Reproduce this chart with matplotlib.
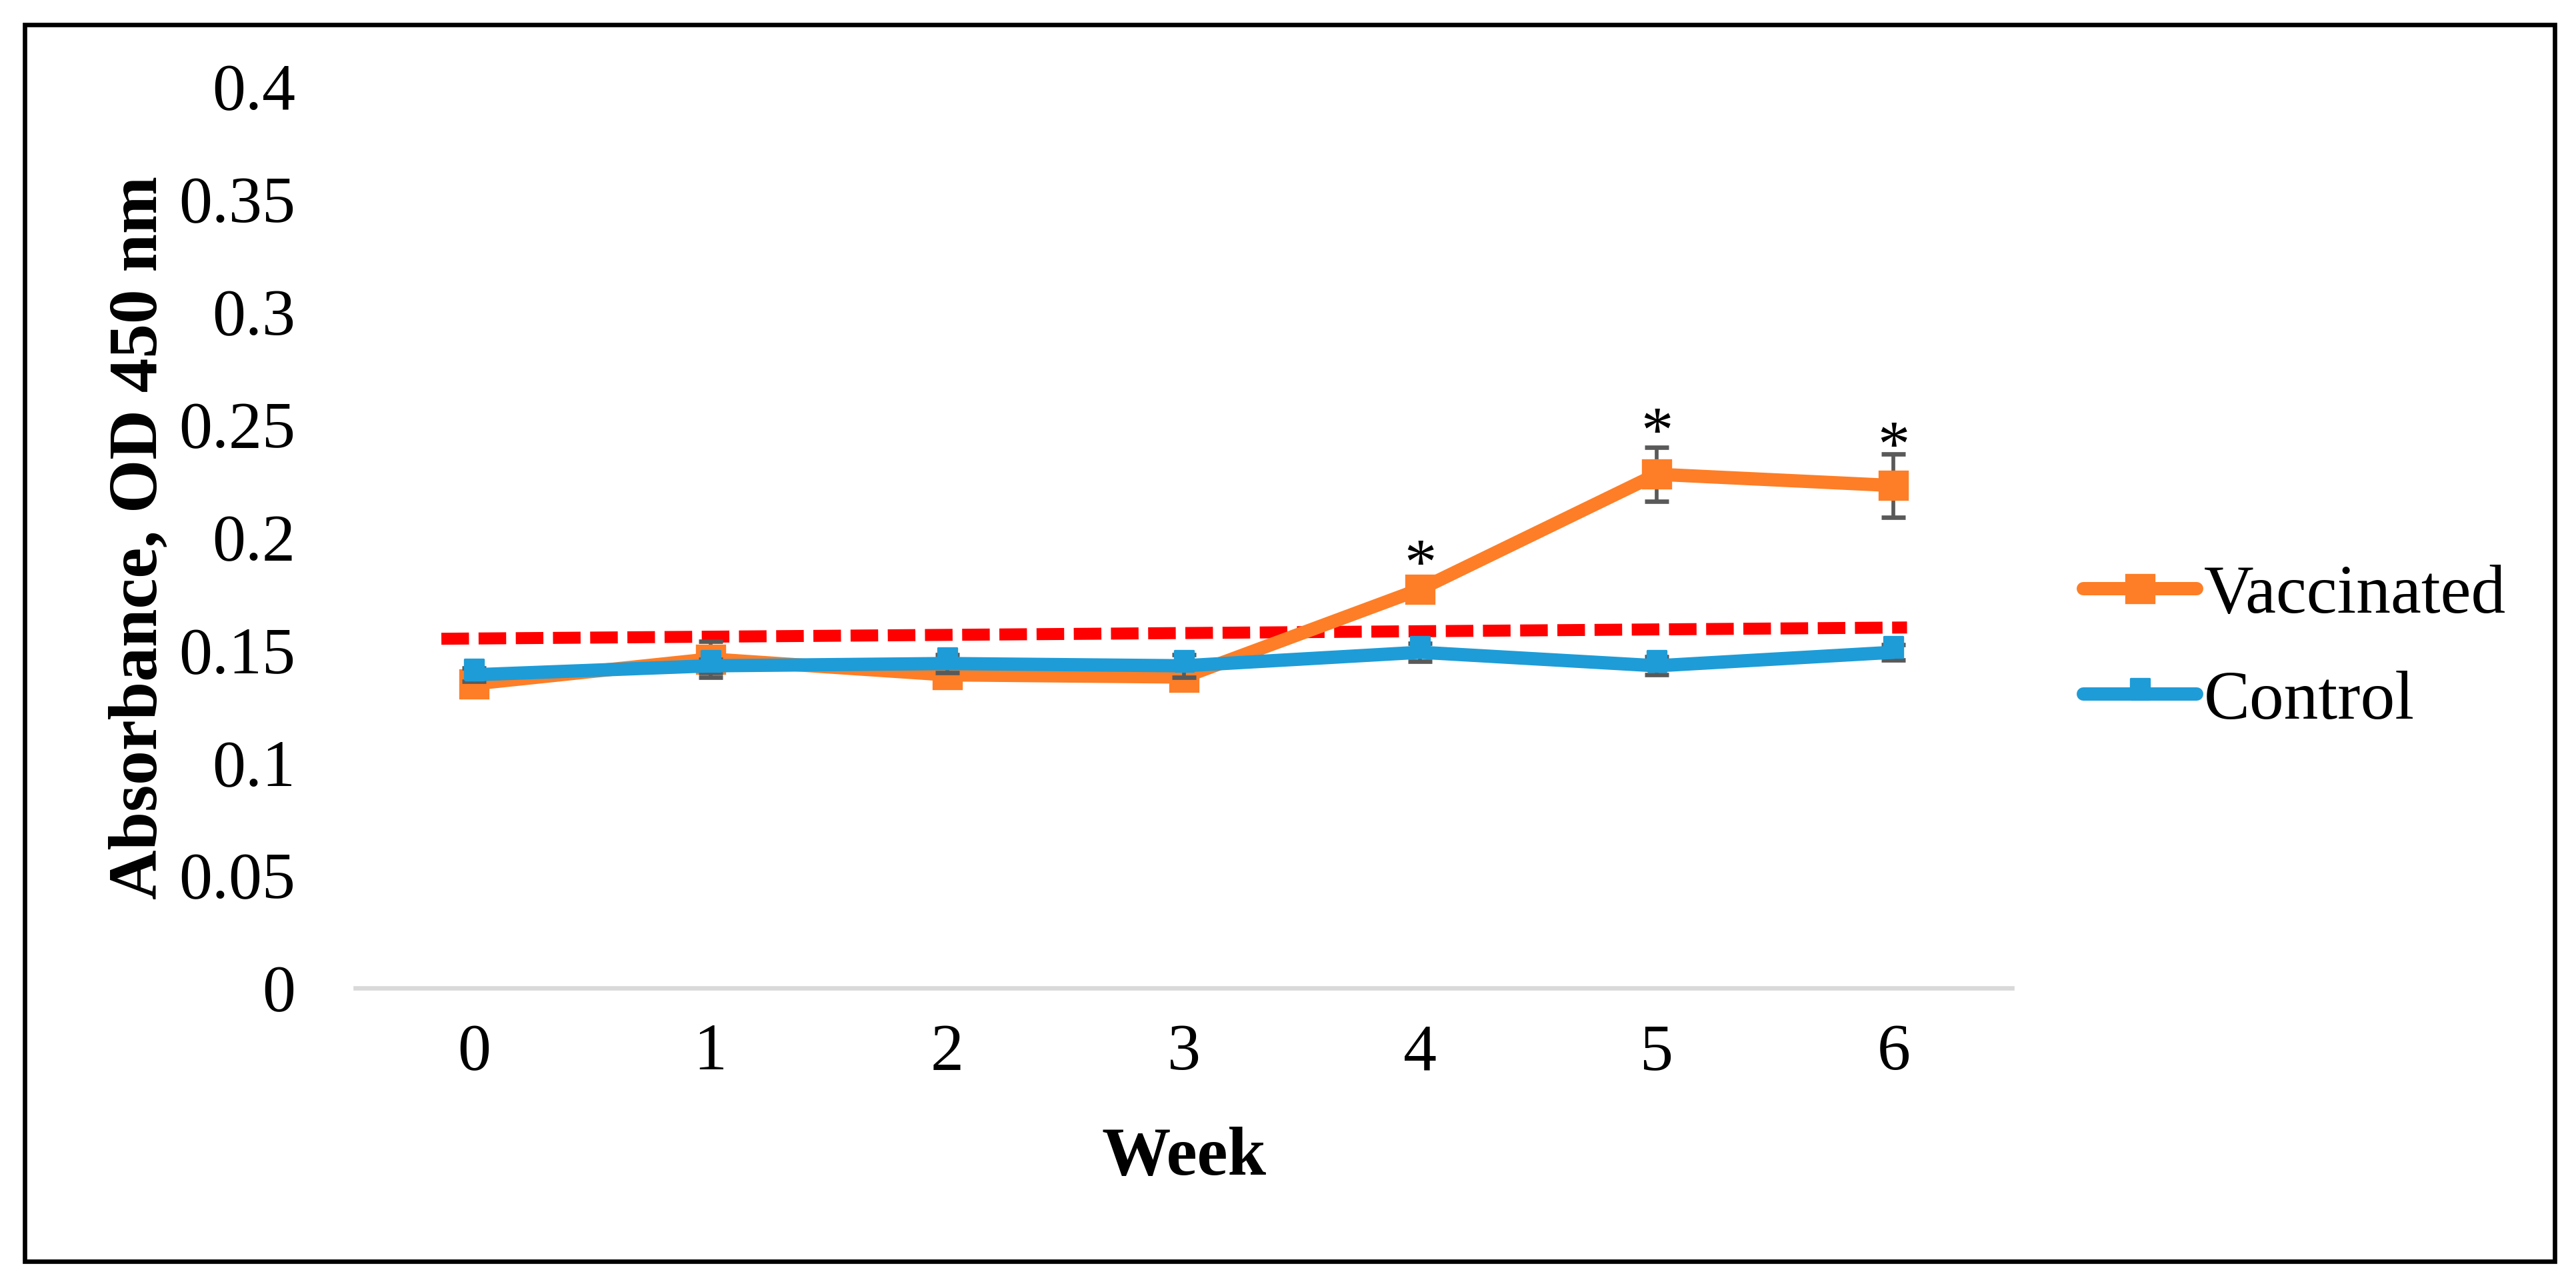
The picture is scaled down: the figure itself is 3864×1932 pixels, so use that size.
import matplotlib
matplotlib.use("Agg")
import matplotlib.pyplot as plt
from matplotlib.patches import Rectangle

# Data
weeks = [0, 1, 2, 3, 4, 5, 6]
vaccinated = [0.135, 0.146, 0.139, 0.138, 0.177, 0.228, 0.223]
vaccinated_err = [0.003, 0.008, 0.003, 0.003, 0.003, 0.012, 0.014]
control = [0.139, 0.143, 0.144, 0.143, 0.149, 0.143, 0.149]
control_err = [0.003, 0.003, 0.004, 0.005, 0.004, 0.004, 0.0035]

# significance marks (centre height of the asterisk)
star_weeks = [4, 5, 6]
star_y = [0.193, 0.2515, 0.2455]

# cut-off line (dashed red)
cutoff_x = [-0.137, 6.057]
cutoff_y = [0.155, 0.160]

y_ticks = [0, 0.05, 0.1, 0.15, 0.2, 0.25, 0.3, 0.35, 0.4]
y_tick_labels = ['0', '0.05', '0.1', '0.15', '0.2', '0.25', '0.3', '0.35', '0.4']

ORANGE = '#FD7E27'
BLUE = '#1E9CD7'
ERR = '#595959'

plt.rcParams['font.family'] = ['Liberation Serif', 'DejaVu Serif']

fig = plt.figure(figsize=(16.1, 8.05), dpi=240)
ax = fig.add_axes([0.138, 0.2329, 0.781 - 0.138, 0.9327 - 0.2329])

# narrow bar marker used for the control series
ctrl_marker = [(-0.3, -0.17), (0.3, -0.17), (0.3, 0.5), (-0.3, 0.5), (-0.3, -0.17)]

ax.plot(cutoff_x, cutoff_y, color='#FF0000', lw=5.4, dashes=(2.3, 0.8), zorder=2)

vac = ax.errorbar(weeks, vaccinated, yerr=vaccinated_err, color=ORANGE, lw=6,
                  marker='s', ms=12.6, mec=ORANGE, ecolor=ERR, elinewidth=1.7,
                  capsize=5.5, capthick=2.0, solid_joinstyle='round',
                  solid_capstyle='round', zorder=3)
ctl = ax.errorbar(weeks, control, yerr=control_err, color=BLUE, lw=6,
                  marker=ctrl_marker, ms=13.8, mec=BLUE, ecolor=ERR, elinewidth=1.7,
                  capsize=5.5, capthick=2.0, solid_joinstyle='round',
                  solid_capstyle='round', zorder=4)

# asterisk glyph centre sits ~0.47 em above the baseline
for w, y in zip(star_weeks, star_y):
    ax.annotate('*', (w, y), xytext=(0, -13.6), textcoords='offset points',
                ha='center', va='baseline', fontsize=29)

ax.set_xlim(-0.5, 6.5)
ax.set_ylim(0, 0.4)
ax.set_xticks(weeks)
ax.set_xticklabels([str(w) for w in weeks])
ax.set_yticks(y_ticks)
ax.set_yticklabels(y_tick_labels)
ax.tick_params(axis='both', length=0, labelsize=30)
ax.tick_params(axis='x', pad=16)
ax.tick_params(axis='y', pad=27)

for side in ['top', 'right', 'left']:
    ax.spines[side].set_visible(False)
ax.spines['bottom'].set_color('#D9D9D9')
ax.spines['bottom'].set_linewidth(2)

ax.set_xlabel('Week', fontsize=31, fontweight='bold')
ax.xaxis.set_label_coords(0.5, -0.1886)
ax.xaxis.label.set_va('center')
ax.set_ylabel('Absorbance, OD 450 nm', fontsize=31, fontweight='bold')
ax.yaxis.set_label_coords(-0.1304, 0.5)
ax.yaxis.label.set_va('center')

# legend shows only the line + marker, no error bars
leg = fig.legend([vac[0], ctl[0]], ['Vaccinated', 'Control'], loc='center left',
                 bbox_to_anchor=(0.8087, 0.4963), bbox_transform=fig.transFigure,
                 frameon=False, fontsize=31, handlelength=1.65, handletextpad=0.1,
                 labelspacing=0.62, borderpad=0, borderaxespad=0, numpoints=1)

# outer frame
fig.patches.append(Rectangle((0.00958, 0.0207), 0.9917 - 0.00958, 0.9808 - 0.0207,
                             transform=fig.transFigure, fill=False,
                             edgecolor='black', lw=2.0))

fig.savefig('out.png', dpi=240)
